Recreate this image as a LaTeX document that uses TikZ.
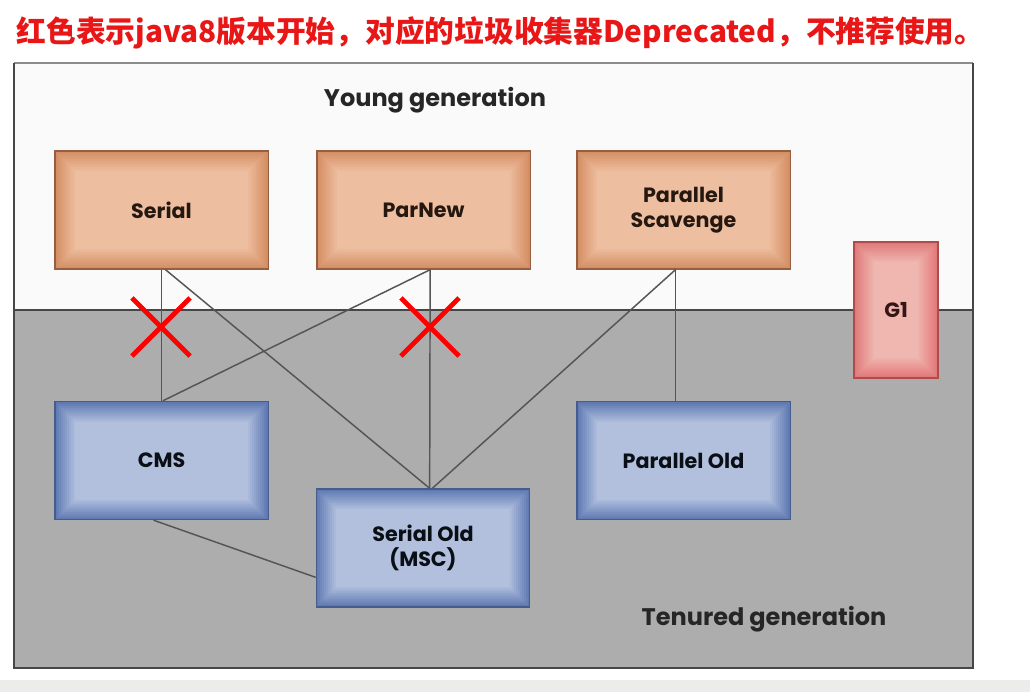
\documentclass[tikz,border=0pt]{standalone}
\usepackage{fontspec}
\usepackage{xcolor}
\usepackage{tikz}
\setmainfont{Poppins}
\newfontfamily\cjkfont{Noto Sans CJK SC}
\usetikzlibrary{calc,shapes.misc}
\definecolor{TitleRed}{RGB}{232,22,22}
\definecolor{PageGray}{RGB}{236,236,234}
\definecolor{TenGray}{RGB}{172,173,172}
\definecolor{FrameGray}{RGB}{70,70,70}
\definecolor{LinkGray}{RGB}{85,85,85}
\definecolor{YEdge}{RGB}{212,142,100}
\definecolor{YCore}{RGB}{238,190,160}
\definecolor{YLine}{RGB}{150,95,65}
\definecolor{OEdge}{RGB}{95,122,178}
\definecolor{OCore}{RGB}{178,192,222}
\definecolor{OLine}{RGB}{70,92,140}
\definecolor{GEdge}{RGB}{224,122,122}
\definecolor{GCore}{RGB}{240,182,176}
\definecolor{GLine}{RGB}{175,75,75}
\tikzset{
  glow/.style 2 args={path picture={
    \foreach \i in {0,...,10}{
      \pgfmathsetmacro\pc{\i*10}
      \fill[#2!\pc!#1]
        ($(path picture bounding box.south west)+(\i*1.5pt,\i*1.5pt)$)
        rectangle
        ($(path picture bounding box.north east)-(\i*1.5pt,\i*1.5pt)$);
    }}},
  gcbox/.style={rectangle, minimum width=160pt, minimum height=88.5pt,
    align=center, font=\bfseries\fontsize{15.5}{19}\selectfont, line width=1pt},
  youngbox/.style={gcbox, draw=YLine, glow={YEdge}{YCore}, text=black!75!YLine},
  oldbox/.style={gcbox, draw=OLine, glow={OEdge}{OCore}, text=black!85!OLine},
  g1box/.style={gcbox, minimum width=63pt, minimum height=102pt,
    draw=GLine, glow={GEdge}{GCore}, text=black!70!GLine},
  link/.style={draw=LinkGray, line width=1.1pt},
  nogo/.style={cross out, draw=red, line width=3.6pt, minimum size=40pt, inner sep=0pt},
  genlabel/.style={font=\bfseries\fontsize{18}{21}\selectfont, text=black!85}
}

\begin{document}
\begin{tikzpicture}[x=0.75pt, y=-0.75pt]
  \useasboundingbox (0,0) rectangle (1030,692);
  \fill[white] (0,0) rectangle (1030,692);
  \fill[PageGray] (0,680) rectangle (1030,692);
  \fill[white!98!black] (14,63) rectangle (973,310);
  \fill[TenGray] (14,310) rectangle (973,668);
  \draw[black!45, line width=0.8pt] (14,63) -- (973,63);
  \draw[FrameGray, line width=1.5pt] (14,63) -- (14,668) -- (973,668) -- (973,63);
  \draw[FrameGray, line width=2pt] (14,310) -- (973,310);

  \node[anchor=west, text=TitleRed, font=\cjkfont\bfseries\fontsize{22.3}{22}\selectfont]
    (title) at (12,33) {红色表示java8版本开始，对应的垃圾收集器Deprecated，不推荐使用。};

  \node[genlabel] (young) at (435,100) {Young generation};
  \node[genlabel] (tenured) at (764,619) {Tenured generation};

  \node[youngbox] (serial) at (161.5,210) {Serial};
  \node[youngbox] (parnew) at (423.5,210) {ParNew};
  \node[youngbox] (scavenge) at (683.5,210) {Parallel\\Scavenge};
  \node[g1box] (g1) at (896,310) {G1};

  \node[oldbox] (cms) at (161.5,460.5) {CMS};
  \node[oldbox] (serialold) at (423,548) {Serial Old\\(MSC)};
  \node[oldbox] (parold) at (683.5,460.5) {Parallel Old};

  \draw[link] (serial.south) -- (cms.north);
  \draw[link] ([xshift=3pt]serial.south) -- ([xshift=5pt]serialold.north);
  \draw[link] ([xshift=5pt]parnew.south) -- ([xshift=1pt]cms.north);
  \draw[link] ([xshift=5pt]parnew.south) -- ([xshift=5pt]serialold.north);
  \draw[link] ([xshift=-6pt]scavenge.south) -- ([xshift=7pt]serialold.north);
  \draw[link] ([xshift=-6pt]scavenge.south) -- ([xshift=-6pt]parold.north);
  \draw[link] ([xshift=-6pt]cms.south) -- ([yshift=-22pt]serialold.west);

  \node[nogo] (cut1) at (161,327) {};
  \node[nogo] (cut2) at (430,327) {};
\end{tikzpicture}
\end{document}
